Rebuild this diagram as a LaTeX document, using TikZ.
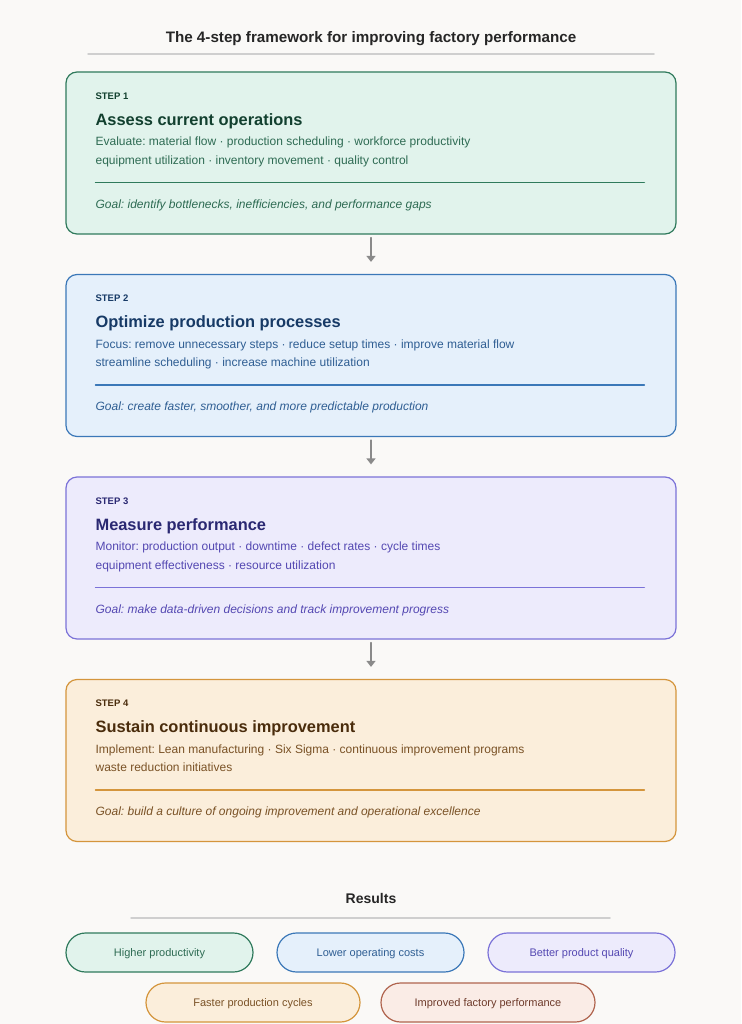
\documentclass[tikz,border=0pt]{standalone}
\usepackage{fontspec}
\setmainfont{Liberation Sans}
\frenchspacing
\usetikzlibrary{arrows.meta,positioning}
% Farben
\definecolor{bg}{HTML}{FAF9F7}
\definecolor{rulegray}{HTML}{CFCFCF}
\definecolor{ink}{HTML}{262626}
\definecolor{arr}{HTML}{8A8A8A}
\definecolor{grnfill}{HTML}{E1F3EC}
\definecolor{grnline}{HTML}{2F7A5C}
\definecolor{grnhead}{HTML}{12402F}
\definecolor{grntext}{HTML}{2E6B53}
\definecolor{blufill}{HTML}{E5F0FB}
\definecolor{bluline}{HTML}{3B78B8}
\definecolor{bluhead}{HTML}{173A66}
\definecolor{blutext}{HTML}{2F5E93}
\definecolor{purfill}{HTML}{EDEBFC}
\definecolor{purline}{HTML}{7B72D8}
\definecolor{purhead}{HTML}{2A2872}
\definecolor{purtext}{HTML}{5448B2}
\definecolor{orafill}{HTML}{FBEEDB}
\definecolor{oraline}{HTML}{D4953C}
\definecolor{orahead}{HTML}{4A2C0C}
\definecolor{oratext}{HTML}{7A5226}
\definecolor{redfill}{HTML}{FAECE6}
\definecolor{redline}{HTML}{B0644E}
\definecolor{redtext}{HTML}{6E3B2B}
\tikzset{
  every picture/.style={line cap=round, line join=round,
    >={Triangle[length=6pt,width=9pt]}},
  every node/.style={inner sep=0pt},
  % Kaesten
  stepbox/.style={draw=#1line, fill=#1fill, line width=1.2pt, rounded corners=11pt,
    minimum width=610pt, minimum height=162pt},
  pill/.style={draw=#1line, fill=#1fill, text=#1text, line width=1.2pt,
    rounded corners=19.5pt, minimum height=39pt, text height=8pt, text depth=0pt,
    font=\fontsize{11}{13}\selectfont},
  % Texte
  steplbl/.style={anchor=base west, text=#1head, font=\bfseries\fontsize{9.5}{11}\selectfont},
  stephead/.style={anchor=base west, text=#1head, font=\bfseries\fontsize{16.4}{19}\selectfont},
  stepbody/.style={anchor=base west, text=#1text, font=\fontsize{12}{14}\selectfont},
  stepgoal/.style={anchor=base west, text=#1text, font=\itshape\fontsize{12}{14}\selectfont},
  sep/.style={draw=#1line, line width=1.2pt},
  hrule/.style={rulegray, line width=1.5pt},
  flow/.style={arr, line width=1.3pt, ->},
}
\begin{document}
\begin{tikzpicture}[x=1pt, y=-1pt]
  \fill[bg] (0,0) rectangle (741,1024);
  \useasboundingbox (0,0) rectangle (741,1024);
  % ---------- Titel ----------
  \node[anchor=base, text=ink, font=\bfseries\fontsize{15.2}{18}\selectfont] (title) at (371,43)
    {The 4-step framework for improving factory performance};
  \draw[hrule] (88,54) -- (654,54);
  % ---------- Schritte ----------
  \foreach \i/\col/\head/\bodya/\bodyb/\goal in {
    1/grn/{Assess current operations}/{Evaluate: material flow · production scheduling · workforce productivity}/{equipment utilization · inventory movement · quality control}/{Goal: identify bottlenecks, inefficiencies, and performance gaps},
    2/blu/{Optimize production processes}/{Focus: remove unnecessary steps · reduce setup times · improve material flow}/{streamline scheduling · increase machine utilization}/{Goal: create faster, smoother, and more predictable production},
    3/pur/{Measure performance}/{Monitor: production output · downtime · defect rates · cycle times}/{equipment effectiveness · resource utilization}/{Goal: make data-driven decisions and track improvement progress},
    4/ora/{Sustain continuous improvement}/{Implement: Lean manufacturing · Six Sigma · continuous improvement programs}/{waste reduction initiatives}/{Goal: build a culture of ongoing improvement and operational excellence}} {
    \node[stepbox=\col] (s\i) at (371,{153+202.5*(\i-1)}) {};
    \begin{scope}[shift={(s\i.north west)}]
      \node[steplbl=\col] (s\i-lbl) at (30,28) {STEP \i};
      \node[stephead=\col] (s\i-head) at (30,54) {\head};
      \node[stepbody=\col] (s\i-a) at (30,74.5) {\bodya};
      \node[stepbody=\col] (s\i-b) at (30,93) {\bodyb};
      \draw[sep=\col] (30,111) -- (579,111);
      \node[stepgoal=\col] (s\i-goal) at (30,137) {\goal};
    \end{scope}
  }
  \foreach \i [evaluate=\i as \j using int(\i+1)] in {1,2,3}
    \draw[flow] ([yshift=-3pt]s\i.south) -- ([yshift=12pt]s\j.north);
  % ---------- Ergebnisse ----------
  \node[anchor=base, text=ink, font=\bfseries\fontsize{14}{16}\selectfont] (res) at (371,903) {Results};
  \draw[hrule] (131,918) -- (610,918);
  \node[pill=grn, minimum width=187pt] (r1) at (159.5,952.5) {Higher productivity};
  \node[pill=blu, minimum width=187pt] (r2) at (370.5,952.5) {Lower operating costs};
  \node[pill=pur, minimum width=187pt] (r3) at (581.5,952.5) {Better product quality};
  \node[pill=ora, minimum width=214pt] (r4) at (253,1002.5) {Faster production cycles};
  \node[pill=red, minimum width=214pt] (r5) at (488,1002.5) {Improved factory performance};
\end{tikzpicture}
\end{document}
